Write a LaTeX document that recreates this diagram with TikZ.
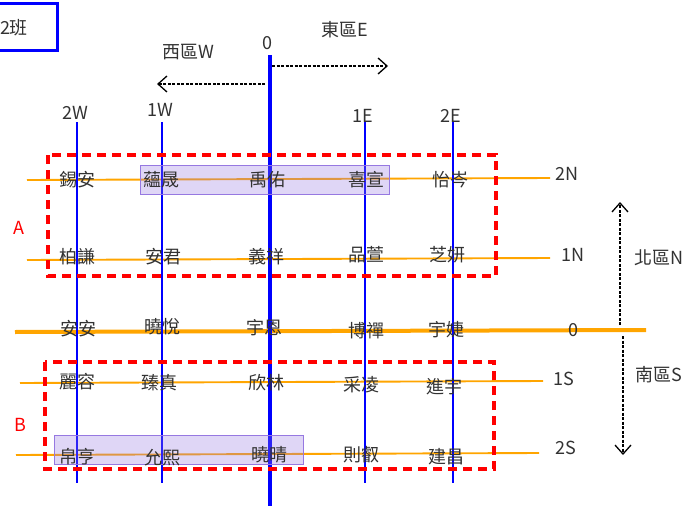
\documentclass[tikz,border=0pt]{standalone}
\usepackage{fontspec}
\setmainfont{Noto Sans CJK TC}
\usetikzlibrary{arrows.meta}
\definecolor{rowline}{RGB}{255,165,0}
\definecolor{groupbox}{RGB}{150,120,225}
\definecolor{inktext}{RGB}{50,50,50}

\begin{document}
\begin{tikzpicture}[x=1pt,y=-1pt,>={Straight Barb[length=9pt,width=16pt]},
        font=\fontsize{18}{18}\selectfont,
        every node/.style={text=inktext},
        colline/.style={blue,line width=2.4pt},
        rowl/.style={rowline,line width=1.9pt},
        zone/.style={red,line width=3.8pt,dash pattern=on 9pt off 6pt},
        team/.style={draw=groupbox,fill=groupbox,fill opacity=0.3,line width=1pt},
        way/.style={->,dash pattern=on 3pt off 1.5pt,line width=1.3pt}]
        \useasboundingbox (0,0) rectangle (699,506);

        % class box
        \draw[blue,line width=3pt] (-5,3) rectangle (57,50);
        \node (cls) at (14,28) {2班};

        % the rows
        \foreach \n/\xa/\ya/\xb/\yb in {
            n2/27/180/550/178,
            n1/27/260/550/258,
            s1/20/383/543/381,
            s2/16/455/539/453} {
                \coordinate (\n L) at (\xa,\ya);
                \coordinate (\n R) at (\xb,\yb);
                \draw[rowl] (\n L) -- (\n R);
        }
        \coordinate (zL) at (15,332);
        \coordinate (zR) at (646,330);
        \draw[rowline,line width=4pt] (zL) -- (zR);

        % the columns
        \foreach \n/\x/\lab/\ly in {
            w2/77/2W/113,
            w1/162/1W/110,
            e1/365/1E/116,
            e2/453/2E/116} {
                \coordinate (\n T) at (\x,122);
                \coordinate (\n B) at (\x,483);
                \draw[colline] (\n T) -- (\n B);
                \node (lab\n) at (\x-2,\ly) {\lab};
        }
        \coordinate (cT) at (270,55);
        \coordinate (cB) at (270,506);
        \draw[blue,line width=4pt] (cT) -- (cB);
        \node (lab0) at (267,43) {0};

        % groups of seats
        \draw[team] (140,165) rectangle (389,194);
        \draw[team] (54,435) rectangle (303,464);

        % zones A and B
        \draw[zone] (48,155) rectangle (496,276);
        \draw[zone] (45,362) rectangle (494,469);
        \node[text=red] (zA) at (19,228) {A};
        \node[text=red] (zB) at (20,425) {B};

        % the names
        \foreach \x/\y/\who [count=\i] in {
            77/180/錫安, 161/180/蘊晟, 267/180/禹佑, 366/180/喜宣, 450/180/怡岑,
            77/257/柏謙, 163/257/安君, 266/257/義祥, 366/255/品萱, 447/255/芝妍,
            78/329/安安, 162/327/曉悅, 264/328/宇恩, 366/331/博禪, 446/330/宇婕,
            77/382/麗容, 159/383/臻真, 266/383/欣林, 361/385/采凌, 444/387/進宇,
            77/457/帛亨, 162/458/允熙, 269/455/曉晴, 361/455/則叡, 446/457/建昌}
                \node (p\i) at (\x,\y) {\who};

        % the row labels
        \draw (567,174) node (r2N) {2N}
              (573,255) node (r1N) {1N}
              (573,330) node (r0)  {0}
              (564,379) node (r1S) {1S}
              (566,448) node (r2S) {2S};

        % the four ways
        \coordinate (wA) at (265,84);
        \coordinate (wB) at (157,84);
        \coordinate (eA) at (272,66);
        \coordinate (eB) at (388,66);
        \coordinate (nA) at (620,325);
        \coordinate (nB) at (620,202);
        \coordinate (sA) at (623,336);
        \coordinate (sB) at (623,455);
        \draw[way] (wA) -- (wB);
        \draw[way] (eA) -- (eB);
        \draw[way] (nA) -- (nB);
        \draw[way] (sA) -- (sB);
        \node (west)  at (188,52)  {西區W};
        \node (east)  at (345,30)  {東區E};
        \node (north) at (659,258) {北區N};
        \node (south) at (659,375) {南區S};
\end{tikzpicture}
\end{document}
